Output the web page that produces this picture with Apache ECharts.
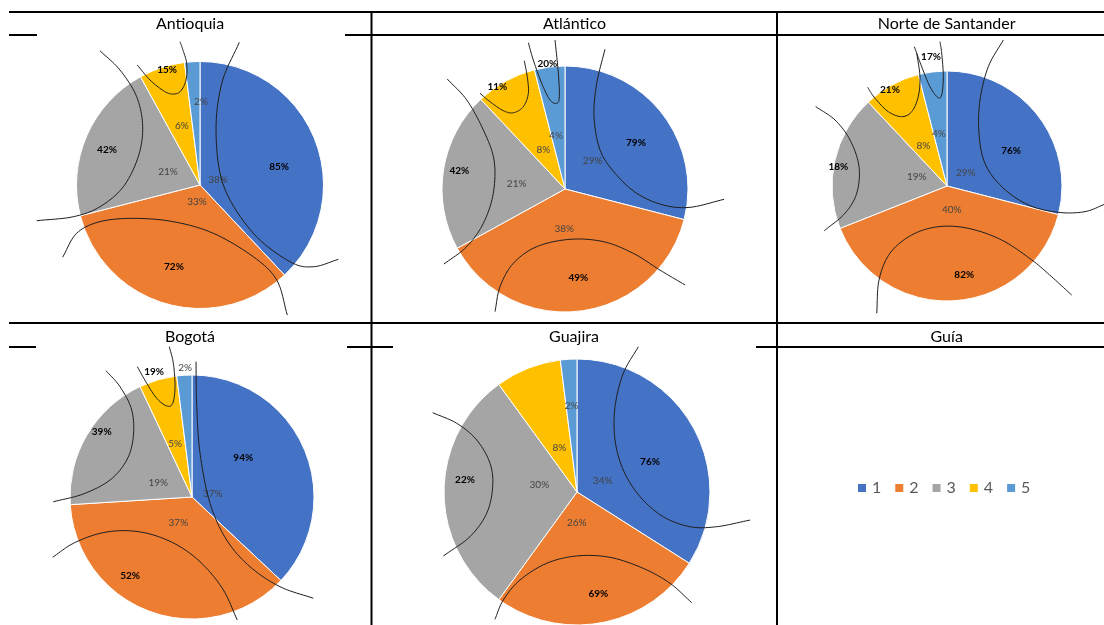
<!DOCTYPE html>
<html><head><meta charset="utf-8">
<script src="https://cdn.jsdelivr.net/npm/echarts@6.0.0/dist/echarts.min.js"></script>
<style>html,body{margin:0;padding:0;background:#fff}#c{width:1104px;height:625px}</style>
</head><body><div id="c"></div><script>
// ---------- data ----------
const categories = ['1','2','3','4','5'];
const regions = ['Antioquia','Atlántico','Norte de Santander','Bogotá','Guajira'];
const legendTitle = 'Guía';
const shareAntioquia = [38,33,21,6,2];
const shareAtlantico = [29,38,21,8,4];
const shareNorte     = [29,40,19,8,4];
const shareBogota    = [37,37,19,5,2];
const shareGuajira   = [34,26,30,8,2];
const boldAntioquia = [85,72,42,15,null];
const boldAtlantico = [79,49,42,11,20];
const boldNorte     = [76,82,18,21,17];
const boldBogota    = [94,52,39,19,null];
const boldGuajira   = [76,69,22,null,null];
const shares = [shareAntioquia,shareAtlantico,shareNorte,shareBogota,shareGuajira];
const bolds  = [boldAntioquia,boldAtlantico,boldNorte,boldBogota,boldGuajira];

// ---------- layout (pie-relative, in units of pie radius) ----------
const colors = ['#4472C4','#ED7D31','#A5A5A5','#FFC000','#5B9BD5'];
const pieCenters = [[200,185],[565,189],[947,186],[192,497],[577,492]];
const pieRadii = [123.5,123,115,122,133];
const innerPos = [
 [[0.146,-0.040],[-0.024,0.138],[-0.259,-0.105],[-0.146,-0.478],[0.008,-0.672]],
 [[0.225,-0.230],[-0.006,0.323],[-0.393,-0.046],[-0.176,-0.317],[-0.073,-0.433]],
 [[0.163,-0.116],[0.041,0.209],[-0.263,-0.076],[-0.206,-0.348],[-0.070,-0.450]],
 [[0.170,-0.025],[-0.112,0.211],[-0.276,-0.117],[-0.139,-0.434],[-0.057,-1.063]],
 [[0.193,-0.085],[-0.002,0.228],[-0.283,-0.055],[-0.133,-0.333],[-0.040,-0.647]]
];
const boldPos = [
 [[0.640,-0.146],[-0.211,0.664],[-0.753,-0.283],[-0.267,-0.931],null],
 [[0.577,-0.372],[0.108,0.718],[-0.859,-0.146],[-0.550,-0.832],[-0.144,-1.022]],
 [[0.557,-0.307],[0.150,0.768],[-0.945,-0.168],[-0.496,-0.841],[-0.139,-1.124]],
 [[0.420,-0.325],[-0.508,0.645],[-0.740,-0.535],[-0.311,-1.027],null],
 [[0.549,-0.228],[0.160,0.767],[-0.842,-0.095],null,null]
];
const curves = [
 [
  [[0.318,-1.155],[0.176,-0.823],[0.130,-0.419],[0.194,0.014],[0.432,0.391],[0.729,0.621],[0.917,0.662],[1.120,0.602]],
  [[-1.112,0.585],[-0.999,0.391],[-0.810,0.297],[-0.540,0.270],[-0.216,0.297],[0.108,0.391],[0.432,0.581],[0.621,0.769],[0.707,1.053]],
  [[-0.810,-1.087],[-0.648,-0.931],[-0.513,-0.715],[-0.464,-0.472],[-0.500,-0.229],[-0.621,0.014],[-0.810,0.176],[-1.026,0.257],[-1.322,0.289]],
  [[-0.508,-0.972],[-0.405,-0.850],[-0.297,-0.764],[-0.229,-0.737],[-0.162,-0.755],[-0.113,-0.850],[-0.108,-0.985],[-0.140,-1.099],[-0.162,-1.160]],
  null
 ],
 [
  [[0.325,-1.136],[0.258,-0.859],[0.236,-0.588],[0.285,-0.317],[0.407,-0.128],[0.583,0.035],[0.799,0.130],[1.016,0.149],[1.293,0.084]],
  [[-0.569,0.997],[-0.528,0.794],[-0.420,0.604],[-0.230,0.469],[0.041,0.409],[0.311,0.428],[0.555,0.523],[0.772,0.659],[0.976,0.780]],
  [[-0.957,-0.894],[-0.799,-0.724],[-0.664,-0.480],[-0.577,-0.236],[-0.583,0.035],[-0.664,0.279],[-0.799,0.469],[-0.984,0.610]],
  [[-0.691,-0.778],[-0.610,-0.710],[-0.502,-0.637],[-0.420,-0.620],[-0.339,-0.669],[-0.298,-0.778],[-0.307,-0.913],[-0.331,-1.043]],
  [[-0.298,-1.189],[-0.258,-1.049],[-0.189,-0.859],[-0.122,-0.724],[-0.067,-0.697],[-0.046,-0.750],[-0.054,-0.941],[-0.081,-1.211]]
 ],
 [
  [[0.490,-1.270],[0.359,-1.037],[0.287,-0.748],[0.278,-0.458],[0.330,-0.197],[0.476,0.006],[0.707,0.165],[0.968,0.229],[1.200,0.223],[1.374,0.157]],
  [[-0.611,1.107],[-0.591,0.817],[-0.496,0.585],[-0.307,0.426],[-0.076,0.354],[0.185,0.368],[0.476,0.470],[0.737,0.643],[0.910,0.789],[1.084,0.948]],
  [[-1.142,-0.690],[-0.974,-0.574],[-0.843,-0.400],[-0.765,-0.168],[-0.785,0.063],[-0.887,0.237],[-1.067,0.389]],
  [[-0.690,-0.858],[-0.626,-0.763],[-0.510,-0.646],[-0.394,-0.603],[-0.307,-0.646],[-0.250,-0.777],[-0.235,-0.950],[-0.263,-1.154]],
  [[-0.284,-1.211],[-0.220,-1.037],[-0.148,-0.863],[-0.081,-0.771],[-0.046,-0.791],[-0.032,-0.950],[-0.046,-1.154],[-0.061,-1.255]]
 ],
 [
  [[0.033,-1.109],[0.038,-0.768],[0.066,-0.358],[0.148,0.052],[0.284,0.352],[0.475,0.571],[0.721,0.735],[0.994,0.830]],
  [[-1.142,0.494],[-0.973,0.380],[-0.754,0.298],[-0.535,0.276],[-0.317,0.311],[-0.098,0.407],[0.093,0.557],[0.257,0.762],[0.371,1.008]],
  [[-0.705,-1.035],[-0.590,-0.904],[-0.494,-0.713],[-0.481,-0.494],[-0.535,-0.303],[-0.672,-0.139],[-0.891,-0.025],[-1.137,0.039]],
  [[-0.448,-1.068],[-0.371,-0.932],[-0.289,-0.809],[-0.207,-0.746],[-0.158,-0.768],[-0.139,-0.904],[-0.153,-1.096],[-0.186,-1.232]],
  null
 ],
 [
  [[0.461,-1.092],[0.348,-0.892],[0.286,-0.641],[0.286,-0.391],[0.348,-0.165],[0.474,0.035],[0.649,0.186],[0.850,0.261],[1.050,0.261],[1.301,0.211]],
  [[-0.617,0.957],[-0.554,0.812],[-0.429,0.662],[-0.228,0.536],[-0.002,0.481],[0.248,0.491],[0.498,0.574],[0.699,0.686],[0.862,0.832]],
  [[-1.085,-0.596],[-0.905,-0.517],[-0.754,-0.391],[-0.654,-0.216],[-0.634,-0.040],[-0.679,0.160],[-0.805,0.336],[-1.005,0.481]],
  null, null
 ]
];
const titlePos = [[190,24],[574.5,24],[946.7,24],[190,337],[574,337],[946.7,337]];
const hLines = [[12,9,1104],[35,9,37],[35,345,1104],[323,9,1104],[347,9,36],[347,347,393],[347,756,1104]];
const vLines = [[371.5,12,625],[777,12,625]];
const FONT = 'Lato, "Open Sans", sans-serif';

function toPolar(p){
  const r = Math.hypot(p[0],p[1]);
  let a = Math.atan2(p[0],-p[1])*180/Math.PI;
  if (a < 0) a += 360;
  return [r,a];
}
// Catmull-Rom sampling of pixel points for a smooth annotation curve
function spline(pts, n){
  const out = [];
  for (let i = 0; i < pts.length-1; i++){
    const p1 = pts[i], p2 = pts[i+1];
    const p0 = pts[i-1] || [2*p1[0]-p2[0], 2*p1[1]-p2[1]];
    const p3 = pts[i+2] || [2*p2[0]-p1[0], 2*p2[1]-p1[1]];
    for (let s = 0; s < n; s++){
      const t = s/n, t2 = t*t, t3 = t2*t;
      out.push([0,1].map(d=>0.5*(2*p1[d] + (-p0[d]+p2[d])*t + (2*p0[d]-5*p1[d]+4*p2[d]-p3[d])*t2 + (-p0[d]+3*p1[d]-3*p2[d]+p3[d])*t3)));
    }
  }
  out.push(pts[pts.length-1]);
  return out;
}

const series = [];
const polar = [], angleAxis = [], radiusAxis = [];
regions.forEach((name,i)=>{
  polar.push({center: pieCenters[i], radius: pieRadii[i]*2});
  angleAxis.push({polarIndex:i, type:'value', min:0, max:360, startAngle:90, clockwise:true, show:false});
  radiusAxis.push({polarIndex:i, type:'value', min:0, max:2, show:false});
  series.push({
    type:'pie', name:name, center: pieCenters[i], radius: pieRadii[i],
    startAngle:90, clockwise:true, avoidLabelOverlap:false, silent:true,
    label:{show:false}, labelLine:{show:false},
    itemStyle:{borderColor:'#fff', borderWidth:1},
    data: categories.map((c,k)=>({name:c, value:shares[i][k], itemStyle:{color:colors[k]}})),
    z:2
  });
  series.push({
    type:'custom', coordinateSystem:'polar', polarIndex:i, silent:true, z:4,
    data: shares[i].map((v,k)=>[k,v]),
    renderItem(params, api){
      const k = params.dataIndex; const p = innerPos[i][k];
      if (!p) return null;
      const pt = api.coord(toPolar(p));
      return {type:'text', x:pt[0], y:pt[1], style:{text: api.value(1)+'%', align:'center', verticalAlign:'middle', font:'10px '+FONT, fill:'#444'}};
    }
  });
  series.push({
    type:'custom', coordinateSystem:'polar', polarIndex:i, silent:true, z:5,
    data: bolds[i].map((v,k)=>[k, v==null ? NaN : v]),
    renderItem(params, api){
      const k = params.dataIndex; const p = boldPos[i][k]; const v = api.value(1);
      if (!p || isNaN(v)) return null;
      const pt = api.coord(toPolar(p));
      return {type:'text', x:pt[0], y:pt[1], style:{text: v+'%', align:'center', verticalAlign:'middle', font:'bold 10px '+FONT, fill:'#000'}};
    }
  });
  series.push({
    type:'custom', coordinateSystem:'polar', polarIndex:i, silent:true, z:6,
    data: bolds[i].map((v,k)=>[k, v==null ? NaN : v]),
    renderItem(params, api){
      const k = params.dataIndex; const pts = curves[i][k];
      if (!pts || isNaN(api.value(1))) return null;
      const px = spline(pts.map(p=>api.coord(toPolar(p))), 10);
      return {type:'polyline', shape:{points:px}, style:{stroke:'#1e1e1e', lineWidth:1, fill:null}};
    }
  });
});

const graphic = [];
hLines.forEach(l=>graphic.push({type:'line', silent:true, z:1, shape:{x1:l[1], y1:l[0], x2:l[2], y2:l[0]}, style:{stroke:'#000', lineWidth:2}}));
vLines.forEach(l=>graphic.push({type:'line', silent:true, z:1, shape:{x1:l[0], y1:l[1], x2:l[0], y2:l[2]}, style:{stroke:'#000', lineWidth:2}}));
regions.concat([legendTitle]).forEach((t,i)=>graphic.push({type:'text', silent:true, z:10, x:titlePos[i][0], y:titlePos[i][1],
  style:{text:t, align:'center', verticalAlign:'middle', font:'16px '+FONT, fill:'#000'}}));

const chart = echarts.init(document.getElementById('c'), null, {renderer:'canvas'});
chart.setOption({
  backgroundColor:'#fff',
  animation:false,
  polar, angleAxis, radiusAxis,
  legend:{data:categories, left:851, top:475, icon:'rect', itemWidth:10, itemHeight:10, itemGap:12,
    textStyle:{fontSize:16, color:'#595959', fontFamily:FONT}, selectedMode:false},
  graphic,
  series
});
</script></body></html>
